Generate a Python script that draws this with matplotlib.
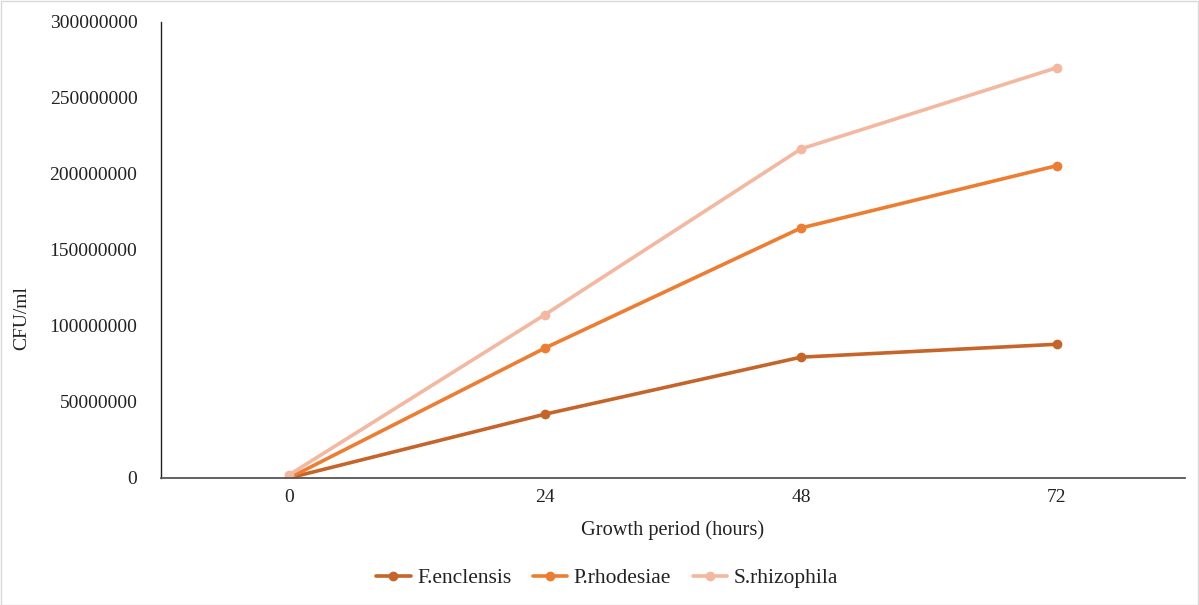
import matplotlib
matplotlib.use("Agg")
import matplotlib.pyplot as plt
from matplotlib.patches import Rectangle

hours = [0, 24, 48, 72]
series_names = ["F.enclensis", "P.rhodesiae", "S.rhizophila"]
f_enclensis = [0, 42000000, 79500000, 88000000]
p_rhodesiae = [0, 85500000, 164500000, 205500000]
s_rhizophila = [2000000, 107500000, 216500000, 270000000]
colors = ["#C5652A", "#ED7D31", "#F4B7A0"]
yticks = [0, 50000000, 100000000, 150000000, 200000000, 250000000, 300000000]

plt.rcParams['font.family'] = ['Liberation Serif', 'DejaVu Serif']

W, H = 1199, 605
fig = plt.figure(figsize=(W / 100, H / 100), dpi=100)
ax = fig.add_axes([161 / W, 1 - 478 / H, (1185 - 161) / W, (478 - 22) / H])

for name, vals, c in zip(series_names, [f_enclensis, p_rhodesiae, s_rhizophila], colors):
    ax.plot(hours, vals, color=c, lw=2.6, marker='o', ms=6, label=name,
            solid_capstyle='round')

ax.set_xlim(-12, 84)
ax.set_ylim(0, 300000000)
ax.set_xticks(hours)
ax.set_xticklabels([str(h) for h in hours])
ax.set_yticks(yticks)
ax.set_yticklabels([str(v) for v in yticks])
ax.tick_params(axis='both', length=0, labelsize=14, colors='#222222')
ax.tick_params(axis='y', pad=17)
ax.tick_params(axis='x', pad=8)
for s in ['top', 'right']:
    ax.spines[s].set_visible(False)
ax.spines['left'].set_color('#222222')
ax.spines['left'].set_linewidth(1.0)
ax.spines['bottom'].set_color('#555555')
ax.spines['bottom'].set_linewidth(1.3)

fig.text(673 / W, 1 - 530 / H, "Growth period (hours)", ha='center', va='center', fontsize=14.7, color='#222222')
fig.text(22 / W, 1 - 318 / H, "CFU/ml", ha='center', va='center', rotation=90, fontsize=14, color='#222222')

leg = fig.legend(loc='center', bbox_to_anchor=(607 / W, 1 - 578 / H), ncol=3, frameon=False,
                 fontsize=15.5, handlelength=1.6, columnspacing=1.0, handletextpad=0.3)
for t in leg.get_texts():
    t.set_color('#222222')

fig.patches.append(Rectangle((0.5 / W, 0.5 / H), 1 - 1.5 / W, 1 - 1.5 / H, transform=fig.transFigure,
                             fill=False, edgecolor='#D9D9D9', lw=1))

fig.savefig("out.png", dpi=100)
